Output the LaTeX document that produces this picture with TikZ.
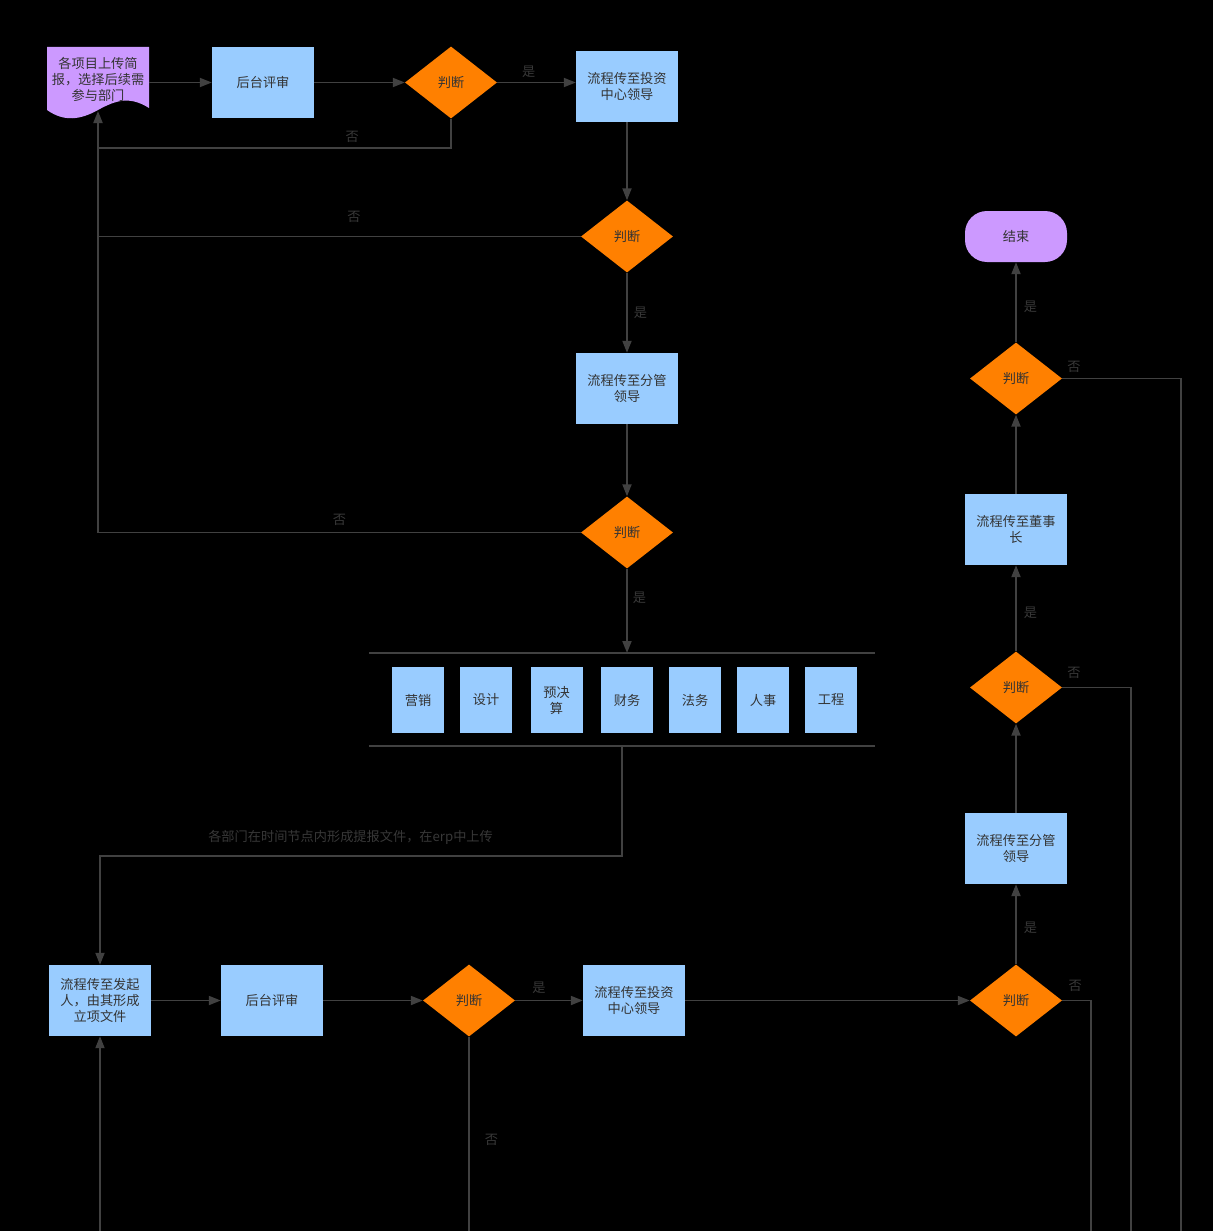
\documentclass[tikz,border=0pt]{standalone}
\usepackage{fontspec}
\setmainfont{Noto Sans CJK SC}
\usetikzlibrary{shapes.geometric,arrows.meta}
\definecolor{bluec}{HTML}{99CCFF}
\definecolor{orangec}{HTML}{FF8000}
\definecolor{purplec}{HTML}{CC99FF}
\definecolor{linec}{HTML}{414141}
\definecolor{txtc}{HTML}{333333}
\definecolor{labc}{HTML}{383838}
\begin{document}
\begin{tikzpicture}[x=1pt,y=-1pt,
  every node/.style={font=\fontsize{13.2}{16}\selectfont, text=txtc},
  box/.style={rectangle, fill=bluec, minimum width=102pt, minimum height=71pt, inner sep=0pt, align=center},
  dept/.style={rectangle, fill=bluec, minimum width=52pt, minimum height=66pt, inner sep=0pt, align=center},
  dec/.style={diamond, fill=orangec, minimum width=92pt, minimum height=72pt, inner sep=0pt, aspect=1.28},
  conn/.style={draw=linec, line width=1.9pt},
  arr/.style={conn, -{Triangle[length=12pt,width=9pt]}},
  lab/.style={text=labc, font=\fontsize{13.2}{15}\selectfont, inner sep=1pt}]
\useasboundingbox[fill=black] (0,0) rectangle (1213,1231);

% document shape
\fill[purplec] (47,47) -- (149,47) -- (149,108) .. controls (130,96) and (116,100) .. (98,110) .. controls (80,120) and (64,122) .. (47,110) -- cycle;
\node[align=center, inner sep=0pt] (doc) at (98,79) {各项目上传简\\报，选择后续需\\参与部门};
\coordinate (docb) at (98,111);
\coordinate (doce) at (149,82.5);

\node[box] (rev1) at (263,82.5) {后台评审};
\node[dec] (d1) at (451,82.5) {判断};
\node[box] (inv1) at (627,86.5) {流程传至投资\\中心领导};
\node[dec] (d2) at (627,236.5) {判断};
\node[box] (sub1) at (627,388.5) {流程传至分管\\领导};
\node[dec] (d3) at (627,532.5) {判断};

% department group
\coordinate (gtl) at (369,653);
\coordinate (gtr) at (875,653);
\coordinate (gbl) at (369,746);
\coordinate (gbr) at (875,746);
\coordinate (gtop) at (627,653);
\coordinate (gbot) at (622,746);
\draw[conn] (gtl) -- (gtr);
\draw[conn] (gbl) -- (gbr);
\node[dept] (m1) at (418,700) {营销};
\node[dept] (m2) at (486,700) {设计};
\node[dept] (m3) at (556.5,700) {预决\\算};
\node[dept] (m4) at (627,700) {财务};
\node[dept] (m5) at (695,700) {法务};
\node[dept] (m6) at (763,700) {人事};
\node[dept] (m7) at (831,700) {工程};

\node[box] (start2) at (100,1000.5) {流程传至发起\\人，由其形成\\立项文件};
\node[box] (rev2) at (272,1000.5) {后台评审};
\node[dec] (d4) at (469,1000.5) {判断};
\node[box] (inv2) at (634,1000.5) {流程传至投资\\中心领导};
\node[dec] (d5) at (1016,1000.5) {判断};
\node[box] (sub2) at (1016,848.5) {流程传至分管\\领导};
\node[dec] (d6) at (1016,687.5) {判断};
\node[box] (chair) at (1016,529.5) {流程传至董事\\长};
\node[dec] (d7) at (1016,378.5) {判断};
\node[rectangle, rounded corners=22pt, fill=purplec, minimum width=102pt, minimum height=51pt, inner sep=0pt] (end) at (1016,236.5) {结束};

% off-page ends
\coordinate (b1) at (100,1231);
\coordinate (b2) at (469,1231);
\coordinate (b3) at (1091,1231);
\coordinate (b4) at (1131,1231);
\coordinate (b5) at (1181,1231);

% connectors (top)
\draw[arr] (doce) -- (rev1.west);
\draw[arr] (rev1.east) -- (d1.west);
\draw[arr] (d1.east) -- node[lab, above=3pt, pos=0.4] {是} (inv1.west |- d1.east);
\draw[arr] (d1.south) -- (451,148) -- node[lab, above=3pt, pos=0.28] {否} (98,148) -- (docb);
\draw[arr] (inv1.south) -- (d2.north);
\draw[conn] (d2.west) -- node[lab, above=12pt, pos=0.47] {否} (98,236.5);
\draw[arr] (d2.south) -- node[lab, right=5pt, pos=0.5] {是} (sub1.north);
\draw[arr] (sub1.south) -- (d3.north);
\draw[conn] (d3.west) -- node[lab, above=5pt, pos=0.5] {否} (98,532.5) -- (98,148);
\draw[arr] (d3.south) -- node[lab, right=4pt, pos=0.35] {是} (gtop);
\draw[arr] (gbot) -- (622,856) -- node[lab, above=10pt, pos=0.52] {各部门在时间节点内形成提报文件，在erp中上传} (100,856) -- (start2.north);

% connectors (bottom)
\draw[arr] (start2.east) -- (rev2.west);
\draw[arr] (rev2.east) -- (d4.west);
\draw[arr] (d4.east) -- node[lab, above=5pt, pos=0.35] {是} (inv2.west);
\draw[conn] (d4.south) -- node[lab, right=14pt, pos=0.53] {否} (b2);
\draw[arr] (b1) -- (start2.south);
\draw[arr] (inv2.east) -- (d5.west);
\draw[arr] (d5.north) -- node[lab, right=6pt, pos=0.46] {是} (sub2.south);
\draw[conn] (d5.east) -- node[lab, above=7pt, pos=0.45] {否} (1091,1000.5) -- (b3);
\draw[arr] (sub2.north) -- (d6.south);
\draw[arr] (d6.north) -- node[lab, right=6pt, pos=0.45] {是} (chair.south);
\draw[conn] (d6.east) -- node[lab, above=7pt, pos=0.17] {否} (1131,687.5) -- (b4);
\draw[arr] (chair.north) -- (d7.south);
\draw[arr] (d7.north) -- node[lab, right=6pt, pos=0.44] {是} (end.south);
\draw[conn] (d7.east) -- node[lab, above=4pt, pos=0.1] {否} (1181,378.5) -- (b5);
\end{tikzpicture}
\end{document}
